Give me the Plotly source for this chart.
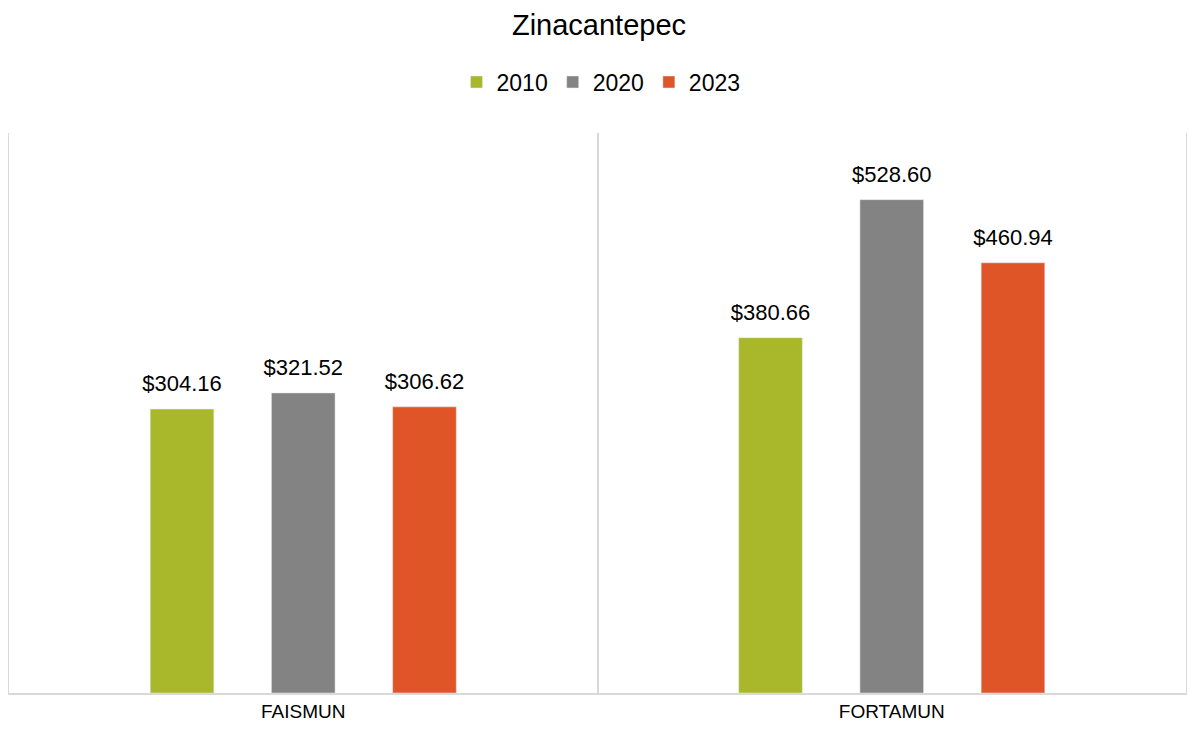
import plotly.graph_objects as go

categories = ["FAISMUN", "FORTAMUN"]
years = ["2010", "2020", "2023"]
values_2010 = [304.16, 380.66]
values_2020 = [321.52, 528.60]
values_2023 = [306.62, 460.94]

series = [values_2010, values_2020, values_2023]
colors = ["#A8B82A", "#838383", "#E05527"]

fig = go.Figure()
for name, vals, col in zip(years, series, colors):
    fig.add_trace(go.Bar(
        name=name, x=categories, y=vals, marker_color=col,
        offsetgroup=name, showlegend=True,
    ))
for name, vals, col in zip(years, series, colors):
    fig.add_trace(go.Scatter(
        name=name, x=categories, y=vals, mode="markers+text",
        marker=dict(size=18, opacity=0), offsetgroup=name,
        texttemplate="$%{y:.2f}", textposition="top center",
        textfont=dict(size=22, color="#000000", family="Liberation Sans, Arial"),
        showlegend=False, hoverinfo="skip", cliponaxis=False,
    ))

# note: the page body adds an 8px offset; sizes and margins compensate for it
fig.update_layout(
    width=1179, height=715,
    paper_bgcolor="white", plot_bgcolor="white",
    font=dict(family="Liberation Sans, Arial", color="#000000"),
    title=dict(text="Zinacantepec", x=591/1179, xanchor="center", y=1 - 17/715, yanchor="middle",
               font=dict(size=29, color="#000000")),
    legend=dict(orientation="h", x=0.503, xanchor="center", y=1.091, yanchor="middle",
                font=dict(size=23, color="#000000"), itemwidth=30, traceorder="normal"),
    margin=dict(l=1, r=1, t=125, b=30, autoexpand=False),
    barmode="group", bargap=0.382, bargroupgap=0.475,
    scattermode="group", scattergap=0.382,
    xaxis=dict(type="category", tickson="boundaries", showgrid=True, gridcolor="#d9d9d9",
               gridwidth=1.5, showline=True, linecolor="#d9d9d9", linewidth=2, ticks="",
               tickfont=dict(size=19, color="#000000"), range=[-0.5, 1.5]),
    yaxis=dict(range=[0, 600], showgrid=False, showticklabels=False, zeroline=False,
               showline=True, mirror=True, linecolor="#d9d9d9", linewidth=2, ticks=""),
)

fig.write_html("out.html")
